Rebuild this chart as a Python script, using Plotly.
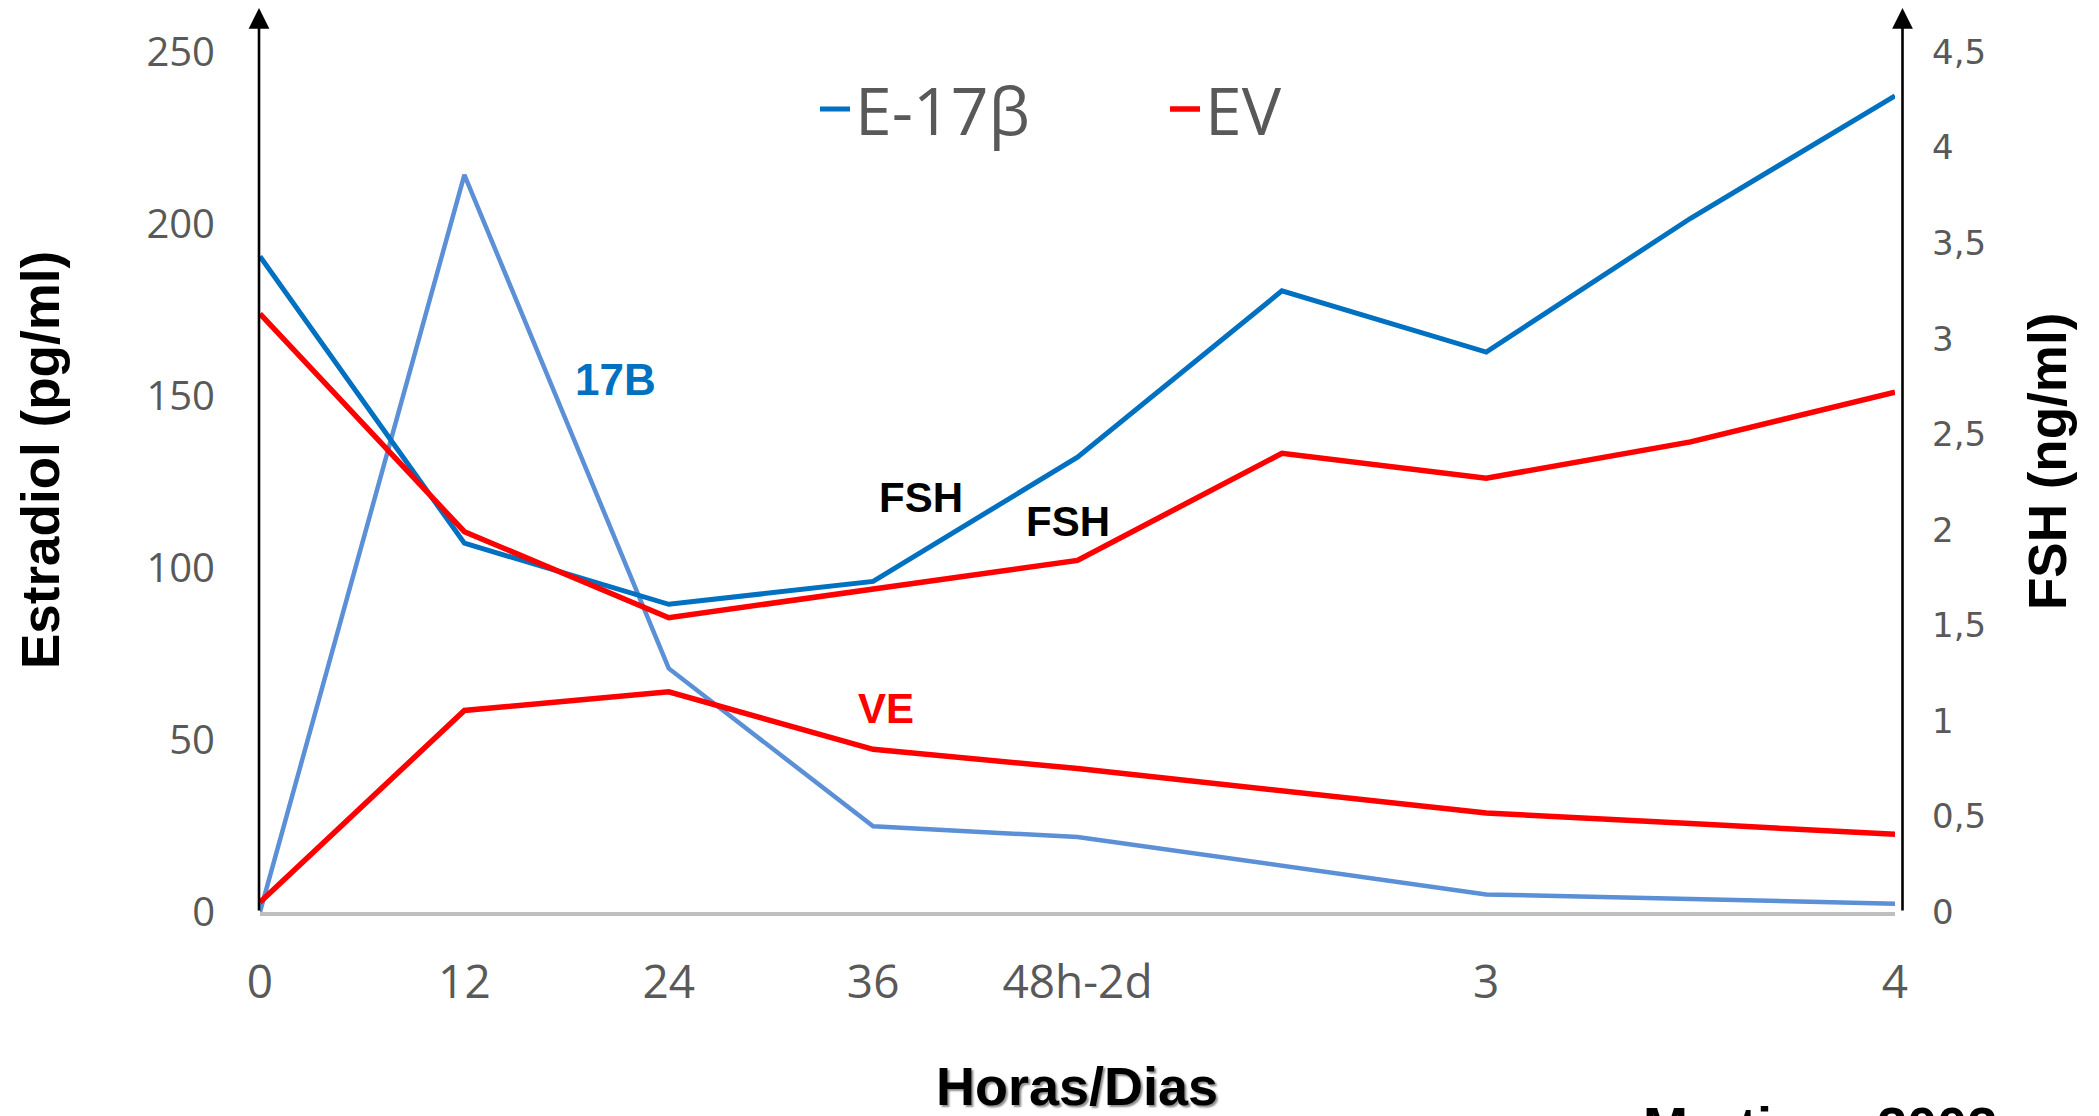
import plotly.graph_objects as go

# ---------------- data ----------------
time_labels = ["0", "12", "24", "36", "48h-2d", "", "3", "", "4"]
time_index = list(range(len(time_labels)))

# FSH (ng/ml) - right axis
fsh_e17b = [3.43, 1.93, 1.61, 1.73, 2.38, 3.25, 2.93, 3.63, 4.27]
fsh_ev = [3.13, 1.99, 1.54, 1.69, 1.84, 2.40, 2.27, 2.46, 2.72]

# Estradiol (pg/ml) - left axis
estradiol_e17b = [0.0, 214.3, 70.8, 24.9, 21.8, 13.5, 5.1, 3.8, 2.4]
estradiol_ev = [2.8, 58.6, 64.0, 47.3, 41.7, 35.3, 28.8, 25.7, 22.6]

left_ticks = [0, 50, 100, 150, 200, 250]
right_ticks = [0, 0.5, 1, 1.5, 2, 2.5, 3, 3.5, 4, 4.5]

# ---------------- styling ----------------
W, H = 2099, 1116
ML, MR, MT, MB = 260, 204, 52, 204
TICK_GRAY = "#595959"
BLUE_DARK = "#0070C0"
BLUE_LIGHT = "#5B8FD6"
RED = "#FF0000"
BOLD_SANS = "Liberation Sans, Arial, sans-serif"

fig = go.Figure()

fig.add_trace(go.Scatter(
    x=time_index, y=estradiol_e17b, mode="lines", name="17B",
    line=dict(color=BLUE_LIGHT, width=4.5), yaxis="y", showlegend=False))
fig.add_trace(go.Scatter(
    x=time_index, y=fsh_e17b, mode="lines", name="E-17β",
    line=dict(color=BLUE_DARK, width=5), yaxis="y2", showlegend=True))
fig.add_trace(go.Scatter(
    x=time_index, y=fsh_ev, mode="lines", name="EV",
    line=dict(color=RED, width=5.5), yaxis="y2", showlegend=True))
fig.add_trace(go.Scatter(
    x=time_index, y=estradiol_ev, mode="lines", name="VE",
    line=dict(color=RED, width=5.5), yaxis="y", showlegend=False))

plot_h = H - MT - MB
plot_w = W - ML - MR

def py(px_from_top):
    return (H - MB - px_from_top) / plot_h

def px(px_from_left):
    return (px_from_left - ML) / plot_w

annotations = []
# arrow-headed vertical axes
for xp in (px(259), px(1902.5)):
    annotations.append(dict(
        x=xp, y=py(8), xref="paper", yref="paper", text="",
        showarrow=True, ax=0, ay=H - MB - 8, axref="pixel", ayref="pixel",
        arrowhead=2, arrowsize=1.6, arrowwidth=2.6, arrowcolor="black", standoff=0))

def label(text, x, y, size, color, family=BOLD_SANS, angle=0, **extra):
    annotations.append(dict(
        x=px(x), y=py(y), xref="paper", yref="paper", text=text,
        xanchor="center", yanchor="middle", textangle=angle, showarrow=False,
        font=dict(family=family, size=size, color=color, **extra)))

# axis titles
label("<b>Estradiol (pg/ml)</b>", 40, 460, 53, "black", angle=-90)
label("<b>FSH (ng/ml)</b>", 2048, 462, 53, "black", angle=-90)
label("<b>Horas/Dias</b>", 1077, 1086, 54, "black",
      shadow="2px 2px 2px rgba(0,0,0,0.45)")

# in-plot labels
label("<b>17B</b>", 615, 379, 44, BLUE_DARK)
label("<b>FSH</b>", 921, 498, 42, "black")
label("<b>FSH</b>", 1068, 521, 42, "black")
label("<b>VE</b>", 886, 708, 42, RED)

# source note (cut off at the bottom edge in the reference)
annotations.append(dict(
    x=px(1641), y=py(1094), xref="paper", yref="paper", text="<b>Martinez 2002</b>",
    xanchor="left", yanchor="top", showarrow=False,
    font=dict(family=BOLD_SANS, size=54, color="black")))

fig.update_layout(
    width=W, height=H,
    margin=dict(l=ML, r=MR, t=MT, b=MB, autoexpand=False),
    paper_bgcolor="white", plot_bgcolor="white",
    separators=",.",
    showlegend=True,
    legend=dict(
        orientation="h", x=px(815), y=py(109), xanchor="left", yanchor="middle",
        font=dict(family="Open Sans, sans-serif", size=66, color=TICK_GRAY),
        bgcolor="rgba(0,0,0,0)", borderwidth=0, entrywidth=305, itemwidth=30),
    xaxis=dict(
        range=[0, 8], tickmode="array", tickvals=time_index, ticktext=time_labels,
        showgrid=False, zeroline=False, showline=True, linecolor="#BFBFBF", linewidth=4,
        ticks="", ticklabelstandoff=27,
        tickfont=dict(family="Open Sans, sans-serif", size=46, color=TICK_GRAY)),
    yaxis=dict(
        range=[0, 250], tickmode="array", tickvals=left_ticks,
        showgrid=False, zeroline=False, showline=False, ticks="",
        ticklabelstandoff=44,
        tickfont=dict(family="Open Sans, sans-serif", size=40, color=TICK_GRAY)),
    yaxis2=dict(
        range=[0, 4.5], tickmode="array", tickvals=right_ticks,
        overlaying="y", side="right", anchor="x",
        showgrid=False, zeroline=False, showline=False, ticks="",
        ticklabelstandoff=36,
        tickfont=dict(family="DejaVu Sans, Verdana, sans-serif", size=34, color=TICK_GRAY)),
    annotations=annotations,
)

fig.write_html(
    "out.html",
    config={"displayModeBar": False},
    post_script="document.body.style.margin='0';document.body.style.padding='0';"
                "document.body.style.overflow='hidden';",
)
